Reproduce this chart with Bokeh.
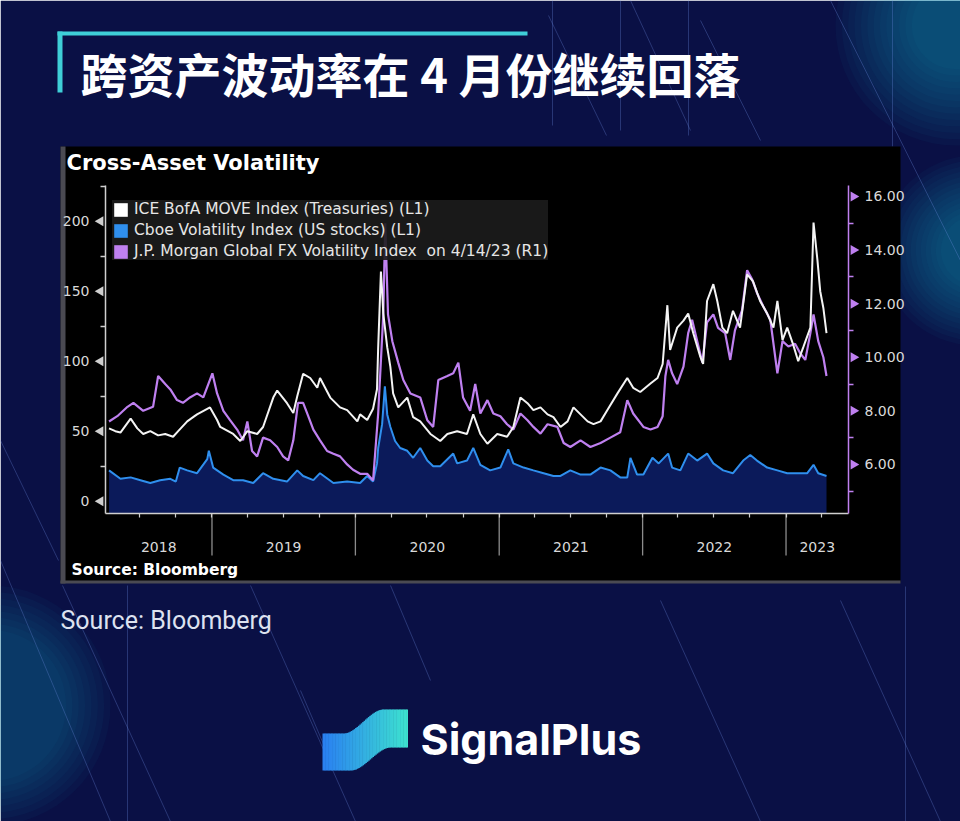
import numpy as np
import pandas as pd
from bokeh.plotting import figure
from bokeh.models import (Range1d, LinearAxis, DatetimeAxis, FixedTicker,
                          DatetimeTickFormatter, PrintfTickFormatter, Legend, LegendItem,
                          ColumnDataSource)
from bokeh.core.properties import value
from bokeh.embed import file_html
from bokeh.resources import INLINE

# ---------------- texts ----------------
TITLE = "跨资产波动率在 4 月份继续回落"
CHART_TITLE = "Cross-Asset Volatility"
SOURCE_INNER = "Source: Bloomberg"
SOURCE_OUTER = "Source: Bloomberg"
BRAND = "SignalPlus"
series_names = ["ICE BofA MOVE Index (Treasuries) (L1)",
                "Cboe Volatility Index (US stocks) (L1)",
                "J.P. Morgan Global FX Volatility Index  on 4/14/23 (R1)"]

# ---------------- data ----------------
move_dates = [
    "2018-04-14", "2018-04-30", "2018-05-13", "2018-06-08", "2018-06-25", "2018-07-10", "2018-07-28",
    "2018-08-17", "2018-09-04", "2018-09-24", "2018-10-07", "2018-10-30", "2018-11-14", "2018-11-24",
    "2018-12-27",
    "2019-01-14", "2019-01-22", "2019-02-24", "2019-03-14", "2019-04-01", "2019-04-26", "2019-05-11",
    "2019-06-06", "2019-06-16", "2019-07-11", "2019-07-27", "2019-08-06", "2019-08-21", "2019-09-08",
    "2019-09-26", "2019-10-03", "2019-10-29", "2019-11-23", "2019-12-11",
    "2020-01-06", "2020-01-13", "2020-01-31", "2020-02-15", "2020-02-25", "2020-02-28", "2020-03-06",
    "2020-03-09", "2020-03-12", "2020-03-22", "2020-03-30", "2020-04-06", "2020-04-19", "2020-05-12",
    "2020-05-27", "2020-06-14", "2020-07-10", "2020-08-04", "2020-08-22", "2020-09-16", "2020-10-11",
    "2020-10-27", "2020-11-14", "2020-12-02", "2020-12-27",
    "2021-01-21", "2021-02-06", "2021-02-24", "2021-03-14", "2021-03-29", "2021-04-16", "2021-05-04",
    "2021-05-19", "2021-06-06", "2021-06-24", "2021-07-09", "2021-07-27", "2021-08-14", "2021-08-29",
    "2021-09-16", "2021-10-03", "2021-10-29", "2021-11-23", "2021-12-08", "2021-12-26",
    "2022-01-21", "2022-02-08", "2022-02-21", "2022-03-05", "2022-03-12", "2022-03-30", "2022-04-15",
    "2022-04-27", "2022-05-10", "2022-05-28", "2022-06-04", "2022-06-14", "2022-06-30", "2022-07-10",
    "2022-07-23", "2022-08-04", "2022-08-19", "2022-09-06", "2022-09-24", "2022-10-09", "2022-10-27",
    "2022-11-14", "2022-11-30", "2022-12-10", "2022-12-23",
    "2023-01-04", "2023-01-19", "2023-02-01", "2023-02-14", "2023-03-04", "2023-03-12", "2023-03-22",
    "2023-03-29", "2023-04-06", "2023-04-14"]
move_vals = [
    52, 50, 49, 59, 52, 48, 50, 47, 48, 46, 50, 57, 60, 62, 67,
    58, 53, 48, 43, 50, 48, 53, 74, 79, 70, 63, 75, 91, 88, 81, 88, 74, 67, 65,
    57, 62, 58, 66, 80, 110, 164, 150, 134, 110, 96, 77, 67, 74, 60, 57, 48, 43, 48, 50, 48, 62, 48, 41, 48,
    46, 53, 74, 70, 65, 67, 62, 60, 53, 57, 67, 62, 57, 55, 57, 65, 77, 88, 81, 78,
    84, 88, 98, 140, 108, 124, 129, 134, 120, 103, 98, 143, 155, 143, 124, 120, 136, 124, 162, 157, 143,
    134, 124, 143, 115,
    124, 112, 100, 110, 124, 199, 172, 150, 138, 120]

vix_dates = [
    "2018-04-14", "2018-05-13", "2018-06-08", "2018-07-03", "2018-07-28", "2018-08-22", "2018-09-17",
    "2018-10-01", "2018-10-11", "2018-10-30", "2018-11-24", "2018-12-20", "2018-12-24",
    "2019-01-04", "2019-01-30", "2019-02-24", "2019-03-21", "2019-04-16", "2019-05-11", "2019-06-06",
    "2019-07-11", "2019-08-06", "2019-08-21", "2019-09-16", "2019-10-03", "2019-11-06", "2019-12-11",
    "2020-01-13", "2020-01-31", "2020-02-15", "2020-02-25", "2020-02-28", "2020-03-09", "2020-03-16",
    "2020-03-22", "2020-03-30", "2020-04-11", "2020-04-24", "2020-05-12", "2020-05-27", "2020-06-14",
    "2020-07-02", "2020-07-17", "2020-08-04", "2020-09-06", "2020-09-16", "2020-10-11", "2020-10-27",
    "2020-11-14", "2020-12-09",
    "2021-01-04", "2021-01-24", "2021-02-06", "2021-03-04", "2021-03-29", "2021-04-24", "2021-05-19",
    "2021-06-06", "2021-07-01", "2021-07-27", "2021-08-21", "2021-09-16", "2021-10-11", "2021-11-05",
    "2021-11-23", "2021-12-01", "2021-12-18",
    "2022-01-03", "2022-01-26", "2022-02-11", "2022-03-07", "2022-03-17", "2022-04-07", "2022-04-27",
    "2022-05-20", "2022-06-14", "2022-06-30", "2022-07-25", "2022-08-19", "2022-09-14", "2022-10-02",
    "2022-10-19", "2022-11-14", "2022-12-10",
    "2023-01-04", "2023-01-30", "2023-02-24", "2023-03-12", "2023-03-24", "2023-04-14"]
vix_vals = [
    22, 16, 17, 15, 13, 15, 16, 14, 24, 22, 20, 30, 36,
    24, 19, 15, 15, 13, 20, 16, 14, 22, 18, 15, 20, 13, 14,
    13, 18, 14, 27, 38, 55, 82, 62, 53, 43, 38, 36, 31, 38, 29, 25, 25, 34, 27, 29, 38, 26, 22,
    24, 37, 27, 24, 22, 20, 18, 18, 22, 19, 19, 24, 22, 17, 17, 31, 19,
    19, 31, 27, 34, 24, 22, 34, 29, 34, 27, 22, 20, 29, 33, 29, 24, 22,
    20, 20, 20, 26, 20, 18]

fx_dates = [
    "2018-04-14", "2018-05-05", "2018-05-31", "2018-06-15", "2018-07-10", "2018-08-04", "2018-08-17",
    "2018-09-04", "2018-09-17", "2018-10-04", "2018-10-19", "2018-11-06", "2018-11-24", "2018-12-10",
    "2019-01-02", "2019-01-14", "2019-01-30", "2019-02-16", "2019-03-06", "2019-03-21", "2019-04-01",
    "2019-04-13", "2019-04-26", "2019-05-11", "2019-05-29", "2019-06-16", "2019-07-01", "2019-07-14",
    "2019-07-27", "2019-08-08", "2019-08-21", "2019-09-03", "2019-09-16", "2019-10-03", "2019-10-21",
    "2019-11-06", "2019-11-23", "2019-12-11", "2019-12-26",
    "2020-01-13", "2020-01-31", "2020-02-15", "2020-02-28", "2020-03-12", "2020-03-17", "2020-03-24",
    "2020-04-04", "2020-04-19", "2020-05-02", "2020-05-20", "2020-06-14", "2020-07-02", "2020-07-17",
    "2020-07-30", "2020-08-22", "2020-09-06", "2020-09-19", "2020-10-01", "2020-10-19", "2020-11-01",
    "2020-11-14", "2020-12-02", "2020-12-17",
    "2021-01-04", "2021-01-21", "2021-02-06", "2021-02-24", "2021-03-14", "2021-03-29", "2021-04-16",
    "2021-05-04", "2021-05-29", "2021-06-14", "2021-07-01", "2021-07-27", "2021-08-21", "2021-09-16",
    "2021-10-11", "2021-11-05", "2021-11-23", "2021-12-08",
    "2022-01-03", "2022-01-21", "2022-02-08", "2022-02-21", "2022-02-28", "2022-03-07", "2022-03-17",
    "2022-03-30", "2022-04-15", "2022-04-27", "2022-05-07", "2022-05-20", "2022-06-02", "2022-06-14",
    "2022-06-30", "2022-07-12", "2022-07-30", "2022-08-12", "2022-08-24", "2022-09-11", "2022-09-24",
    "2022-10-07", "2022-10-19", "2022-11-04", "2022-11-22", "2022-12-10", "2022-12-23",
    "2023-01-07", "2023-01-24", "2023-02-06", "2023-02-19", "2023-03-04", "2023-03-12", "2023-03-24",
    "2023-04-06", "2023-04-14"]
fx_vals = [
    7.6, 7.8, 8.15, 8.3, 8.0, 8.15, 9.3, 9.0, 8.8, 8.4, 8.3, 8.5, 8.65, 8.5,
    9.4, 8.65, 8.0, 7.65, 7.3, 6.9, 7.6, 6.5, 6.3, 7.0, 6.9, 6.65, 6.3, 6.15, 6.9, 8.3, 8.3, 7.8, 7.3,
    6.9, 6.5, 6.4, 6.3, 6.0, 5.8,
    5.65, 5.65, 5.4, 7.9, 11.6, 15.0, 11.6, 10.6, 9.8, 9.15, 8.65, 8.5, 7.65, 7.4, 9.15, 9.3, 9.4, 9.8,
    8.5, 8.0, 9.0, 7.9, 8.4, 7.9,
    7.8, 7.5, 7.3, 7.9, 7.65, 7.4, 7.15, 7.5, 7.4, 6.8, 6.65, 6.9, 6.65, 6.8, 7.0, 7.2, 8.4, 7.9,
    7.4, 7.3, 7.4, 7.8, 9.3, 9.9, 9.4, 9.0, 9.65, 10.9, 11.4, 10.6, 9.8, 11.3, 11.6, 11.1, 10.9, 9.9,
    11.0, 11.75, 13.25, 12.9, 12.4, 11.9, 11.4, 9.4, 10.6,
    10.4, 10.5, 10.15, 9.9, 10.9, 11.6, 10.6, 10.0, 9.3]

left_ticks = [0, 50, 100, 150, 200]
left_minor = [25, 75, 125, 175, 225]
right_ticks = [6, 8, 10, 12, 14, 16]
right_minor = [5, 7, 9, 11, 13, 15]
years = [2018, 2019, 2020, 2021, 2022, 2023]
x_start, x_end = "2018-04-05", "2023-06-09"
left_range = (-8.8, 225.5)
right_range = (4.168, 16.41)

# ---------------- styles ----------------
NAVY = "#0a1045"
WHITE = "#f4f4f4"
BLUE = "#2f8fee"
PURPLE = "#bf80f0"
AXIS_GRAY = "#cfcfcf"
LABEL_GRAY = "#d9d9d9"
BB_FONT = "DejaVu Sans"

def ms(t):
    return (pd.Timestamp(t) - pd.Timestamp("1970-01-01")).total_seconds() * 1000.0

xs_t, xe_t = pd.Timestamp(x_start), pd.Timestamp(x_end)

W, H = 960, 821
FL, FR, FT, FB = 105, 848, 185, 513   # frame edges in page pixels
p = figure(width=W, height=H, output_backend="svg", toolbar_location=None,
           x_range=Range1d(ms(xs_t), ms(xe_t)), y_range=Range1d(*left_range),
           x_axis_type=None, y_axis_type=None,
           min_border_left=FL, min_border_right=W - FR, min_border_top=FT, min_border_bottom=H - FB,
           background_fill_color="black", border_fill_color=NAVY, outline_line_color=None)
# pixel-space helper ranges (page decoration) and right-hand value range
p.extra_x_ranges = {"px": Range1d(FL, FR)}
p.extra_y_ranges = {"px": Range1d(FB, FT), "fx": Range1d(*right_range)}
PX = dict(x_range_name="px", y_range_name="px")

# ---------------- page decoration (drawn first) ----------------
for (cx, cy, R) in [(955, 25, 120), (975, 250, 95), (-10, 705, 120)]:
    radii = np.linspace(R, R * 0.1, 18)
    p.circle(x=[cx] * len(radii), y=[cy] * len(radii), radius=radii,
             fill_color="#22b4cc", fill_alpha=0.04, line_color=None, level="guide", **PX)

deco_x0 = [552, 620, 688, 892, 548, 630, 700, 830, 0, 62, 127, 250, 390, 840, 905, 300, 660, 0]
deco_y0 = [0, 0, 0, 0, 15, 0, 20, 0, 440, 585, 585, 585, 585, 600, 586, 690, 600, 560]
deco_x1 = [552, 620, 688, 892, 606, 690, 760, 960, 58, 170, 127, 355, 430, 940, 905, 330, 760, 110]
deco_y1 = [125, 130, 135, 146, 135, 130, 140, 260, 560, 821, 821, 821, 680, 821, 821, 760, 821, 821]
p.segment(x0=deco_x0, y0=deco_y0, x1=deco_x1, y1=deco_y1, line_color="#6f8fe6",
          line_alpha=0.3, line_width=1, level="guide", **PX)

# cyan bracket
p.quad(left=[57, 57], right=[527, 62], top=[31, 31], bottom=[35, 92],
       fill_color="#3fcfd8", line_color=None, level="guide", **PX)

# Bloomberg panel
p.quad(left=[60], right=[900], top=[146], bottom=[582], fill_color="black",
       line_color=None, level="guide", **PX)
p.quad(left=[60, 60], right=[65, 900], top=[146, 580], bottom=[583, 583], fill_color="#4a4a52",
       line_color=None, level="guide", **PX)

# ---------------- data ----------------
src_move = ColumnDataSource(dict(d=pd.to_datetime(move_dates), v=move_vals))
src_vix = ColumnDataSource(dict(d=pd.to_datetime(vix_dates), v=vix_vals))
src_fx = ColumnDataSource(dict(d=pd.to_datetime(fx_dates), v=fx_vals))

p.varea(x="d", y1=left_range[0], y2="v", source=src_vix, fill_color="#0b1a5a", level="guide")
p.line(x="d", y="v", source=src_vix, line_color=BLUE, line_width=2, level="guide")
p.line(x="d", y="v", source=src_fx, y_range_name="fx", line_color=PURPLE, line_width=2.2, level="guide")
p.line(x="d", y="v", source=src_move, line_color=WHITE, line_width=2, level="guide")

# legend (square swatches from clipped, off-frame dummy quads)
leg_r = [p.quad(left=[-5000], right=[-4990], top=[-5000], bottom=[-4990], fill_color=c,
                line_color=None, **PX)
         for c in ["#ffffff", BLUE, PURPLE]]
legend = Legend(items=[LegendItem(label=n, renderers=[r]) for n, r in zip(series_names, leg_r)],
                location=(7, 253), padding=9, spacing=3, margin=0,
                glyph_width=17, glyph_height=17, label_height=17, label_standoff=5,
                background_fill_color="#1c1c1c", background_fill_alpha=0.9,
                border_line_color=None, label_text_color="#e6e6e6",
                label_text_font=BB_FONT, label_text_font_size="15.5px")
p.add_layout(legend)

# ---------------- axes ----------------
yl = LinearAxis(ticker=FixedTicker(ticks=left_ticks, minor_ticks=left_minor), level="overlay",
                axis_line_color=AXIS_GRAY, axis_line_width=1.5,
                major_tick_out=0, major_tick_in=0, major_tick_line_color=None,
                minor_tick_out=5, minor_tick_in=0, minor_tick_line_color=AXIS_GRAY, minor_tick_line_width=1.5,
                major_label_standoff=11, major_label_text_color=LABEL_GRAY,
                major_label_text_font=BB_FONT, major_label_text_font_size="14px")
p.add_layout(yl, "left")

yr = LinearAxis(y_range_name="fx", ticker=FixedTicker(ticks=right_ticks, minor_ticks=right_minor),
                formatter=PrintfTickFormatter(format="%.2f"), level="overlay",
                axis_line_color=PURPLE, axis_line_width=1.5,
                major_tick_out=0, major_tick_in=0, major_tick_line_color=None,
                minor_tick_out=5, minor_tick_in=0, minor_tick_line_color=PURPLE, minor_tick_line_width=1.5,
                major_label_standoff=11, major_label_text_color=LABEL_GRAY,
                major_label_text_font=BB_FONT, major_label_text_font_size="14px")
p.add_layout(yr, "right")

year_mid = []
for y in years:
    a = max(pd.Timestamp(f"{y}-01-01"), xs_t)
    b = min(pd.Timestamp(f"{y + 1}-01-01"), xe_t)
    year_mid.append((ms(a) + ms(b)) / 2)
quarters = [ms(t) for t in pd.date_range(xs_t, xe_t, freq="QS")]
fmt = "%Y"
xb = DatetimeAxis(ticker=FixedTicker(ticks=year_mid, minor_ticks=quarters), level="overlay",
                  formatter=DatetimeTickFormatter(microseconds=fmt, milliseconds=fmt, seconds=fmt,
                                                  minsec=fmt, minutes=fmt, hourmin=fmt, hours=fmt,
                                                  days=fmt, months=fmt, years=fmt),
                  axis_line_color=AXIS_GRAY, axis_line_width=1.5,
                  major_tick_out=0, major_tick_in=0, major_tick_line_color=None,
                  minor_tick_out=4, minor_tick_in=0, minor_tick_line_color=AXIS_GRAY, minor_tick_line_width=1.2,
                  major_label_standoff=24, major_label_text_color=LABEL_GRAY,
                  major_label_text_font=BB_FONT, major_label_text_font_size="14px")
p.add_layout(xb, "below")

# year dividers below the axis
div_x = [ms(f"{y}-01-01") for y in years[1:]]
p.segment(x0=div_x, x1=div_x, y0=[FB] * len(div_x), y1=[FB + 42] * len(div_x), y_range_name="px",
          line_color="#8c8c8c", line_width=1.3, level="overlay")

# arrow-shaped major ticks
p.scatter(x=[FL - 5] * len(left_ticks), y=left_ticks, x_range_name="px", marker="triangle",
          angle=np.pi / 2, size=10, fill_color=AXIS_GRAY, line_color=None, level="overlay")
p.scatter(x=[FR + 5] * len(right_ticks), y=right_ticks, x_range_name="px", y_range_name="fx",
          marker="triangle", angle=-np.pi / 2, size=10, fill_color=PURPLE, line_color=None, level="overlay")

# ---------------- texts ----------------
p.text(x=[80], y=[72], text=[TITLE], text_font=value("Noto Sans CJK SC"), text_font_style="bold",
       text_font_size="47px", text_color="white", text_baseline="middle", text_align="left",
       level="overlay", **PX)
p.text(x=[66], y=[162], text=[CHART_TITLE], text_font=value(BB_FONT), text_font_style="bold",
       text_font_size="21px", text_color="white", text_baseline="middle", level="overlay", **PX)
p.text(x=[71], y=[569], text=[SOURCE_INNER], text_font=value(BB_FONT), text_font_style="bold",
       text_font_size="15.5px", text_color="white", text_baseline="middle", level="overlay", **PX)
p.text(x=[60], y=[620], text=[SOURCE_OUTER], text_font=value("Roboto"),
       text_font_size="25px", text_color="#dde2f0", text_baseline="middle", level="overlay", **PX)
p.text(x=[420], y=[738], text=[BRAND], text_font=value("Inter"), text_font_style="bold",
       text_font_size="43px", text_color="white", text_baseline="middle", level="overlay", **PX)

# logo ribbon with blue->cyan gradient (thin vertical slices)
def smooth(t):
    t = np.clip(t, 0.0, 1.0)
    return t * t * (3 - 2 * t)

edges = np.linspace(322, 407, 61)
c0 = np.array([0x2a, 0x80, 0xf2])
c1 = np.array([0x3e, 0xe2, 0xd0])
ql, qr, qt, qb, qc = [], [], [], [], []
for i in range(len(edges) - 1):
    a, b = float(edges[i]), float(edges[i + 1])
    m = 0.5 * (a + b)
    ql.append(a)
    qr.append(b + 0.5)
    qt.append(float(733 - 24 * smooth((m - 343) / 40)))
    qb.append(float(770 - 23 * smooth((m - 350) / 40)))
    f = i / (len(edges) - 2)
    c = (c0 + (c1 - c0) * f).astype(int)
    qc.append("#%02x%02x%02x" % (int(c[0]), int(c[1]), int(c[2])))
p.quad(left=ql, right=qr, top=qt, bottom=qb, fill_color=qc, line_color=None, level="overlay", **PX)

open("out.html", "w").write(file_html(p, INLINE))
